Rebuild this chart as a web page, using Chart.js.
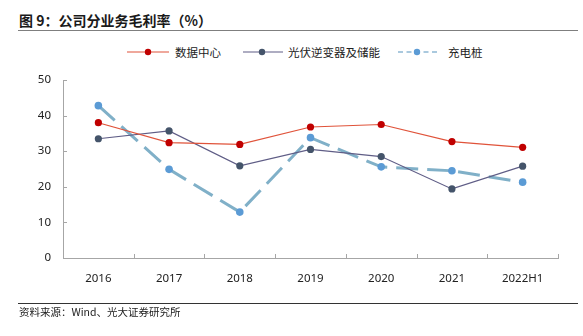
<!DOCTYPE html>
<html>
<head>
<meta charset="utf-8">
<script src="https://cdn.jsdelivr.net/npm/chart.js@4/dist/chart.umd.min.js"></script>
<style>
  html, body { margin: 0; padding: 0; background: #fff; }
  body { width: 583px; height: 336px; position: relative; overflow: hidden;
         font-family: "Noto Sans CJK SC", "Noto Sans", sans-serif; color: #222; }
  #chart { position: absolute; left: 0; top: 0; }
  .title { position: absolute; left: 19px; top: 10px; font-size: 14px; font-weight: bold; line-height: 20px; color: #1a1a1a; white-space: nowrap; }
  .rule-top { position: absolute; left: 18px; top: 30px; width: 560px; height: 0; border-top: 1.5px solid #7f7f7f; }
  .rule-bottom { position: absolute; left: 18px; top: 303px; width: 560px; height: 0; border-top: 1px solid #333; }
  .source { position: absolute; left: 19px; top: 304px; font-size: 10.5px; line-height: 16px; color: #222; white-space: nowrap; }
  .legend { position: absolute; left: 0; top: 43px; height: 18px; width: 583px; }
  .legend svg { position: absolute; top: 0; }
  .legend span { position: absolute; top: 0; font-size: 11.5px; line-height: 18px; color: #222; white-space: nowrap; }
</style>
</head>
<body>
<div class="title">图 9：公司分业务毛利率（%）</div>
<div class="rule-top"></div>
<div class="legend">
  <svg style="left:127px" width="42" height="18"><line x1="0" y1="9" x2="42" y2="9" stroke="#e0533a" stroke-width="1.2"/><circle cx="21" cy="9" r="3.2" fill="#c00000"/></svg>
  <span style="left:175px">数据中心</span>
  <svg style="left:243px" width="40" height="18"><line x1="0" y1="9" x2="40" y2="9" stroke="#5f5d86" stroke-width="1.2"/><circle cx="19" cy="9" r="3.2" fill="#44546a"/></svg>
  <span style="left:288px">光伏逆变器及储能</span>
  <svg style="left:398px" width="40" height="18"><line x1="0" y1="9" x2="40" y2="9" stroke="#8fb8d4" stroke-width="1.3" stroke-dasharray="5,3.5"/><circle cx="19" cy="9" r="3.2" fill="#5b9bd5"/></svg>
  <span style="left:448px">充电桩</span>
</div>
<canvas id="chart" width="583" height="336"></canvas>
<div class="rule-bottom"></div>
<div class="source">资料来源：Wind、光大证券研究所</div>

<script>
// Gross margin by business line, %
const categories = ['2016', '2017', '2018', '2019', '2020', '2021', '2022H1'];
const dataCenter = [38.0, 32.4, 31.9, 36.8, 37.5, 32.7, 31.1];
const pvInverterStorage = [33.5, 35.7, 25.9, 30.5, 28.5, 19.4, 25.8];
const evCharging = [42.8, 24.9, 12.9, 33.8, 25.6, 24.5, 21.3];
const yTicks = [0, 10, 20, 30, 40, 50];

const axisColor = '#a6a6a6';
const tickFont = { family: '"Noto Sans", "Noto Sans CJK SC", sans-serif', size: 11.5 };

// short tick marks pointing into the plot area
const innerTicks = {
  id: 'innerTicks',
  afterDraw(chart) {
    const { ctx, scales: { x, y } } = chart;
    ctx.save();
    ctx.strokeStyle = axisColor;
    ctx.lineWidth = 1;
    ctx.beginPath();
    y.ticks.forEach((t, i) => {
      const py = Math.round(y.getPixelForTick(i)) + 0.5;
      ctx.moveTo(x.left, py);
      ctx.lineTo(x.left + 4, py);
    });
    for (let i = 0; i <= categories.length; i++) {
      const px = Math.round(x.getPixelForValue(i - 0.5)) + 0.5;
      ctx.moveTo(px, y.bottom);
      ctx.lineTo(px, y.bottom - 4);
    }
    ctx.stroke();
    ctx.restore();
  }
};

new Chart(document.getElementById('chart'), {
  type: 'line',
  data: {
    labels: categories,
    datasets: [
      {
        label: '数据中心',
        data: dataCenter,
        borderColor: '#e0533a',
        borderWidth: 1.2,
        pointBackgroundColor: '#c00000',
        pointBorderColor: '#c00000',
        pointRadius: 3.6,
        pointBorderWidth: 0,
        tension: 0
      },
      {
        label: '光伏逆变器及储能',
        data: pvInverterStorage,
        borderColor: '#5f5d86',
        borderWidth: 1.2,
        pointBackgroundColor: '#44546a',
        pointBorderColor: '#44546a',
        pointRadius: 3.6,
        pointBorderWidth: 0,
        tension: 0
      },
      {
        label: '充电桩',
        data: evCharging,
        borderColor: '#80b0c8',
        borderWidth: 3,
        borderDash: [22, 9],
        pointBackgroundColor: '#5b9bd5',
        pointBorderColor: '#5b9bd5',
        pointRadius: 3.8,
        pointBorderWidth: 0,
        tension: 0
      }
    ]
  },
  options: {
    responsive: false,
    devicePixelRatio: 1,
    animation: false,
    layout: { padding: { left: 0, right: 25, top: 80, bottom: 38 } },
    plugins: { legend: { display: false }, tooltip: { enabled: false } },
    scales: {
      x: {
        offset: true,
        grid: { drawOnChartArea: false, drawTicks: false, offset: true },
        border: { display: true, color: axisColor, width: 1 },
        ticks: { color: '#222', font: tickFont, padding: 14, maxRotation: 0 },
        afterFit(scale) { scale.height = 40; }
      },
      y: {
        min: 0,
        max: 50,
        afterBuildTicks(scale) { scale.ticks = yTicks.map(v => ({ value: v })); },
        grid: { drawOnChartArea: false, drawTicks: false },
        border: { display: true, color: axisColor, width: 1 },
        ticks: { color: '#222', font: tickFont, padding: 12 },
        afterFit(scale) { scale.width = 63; }
      }
    }
  },
  plugins: [innerTicks]
});
</script>
</body>
</html>
